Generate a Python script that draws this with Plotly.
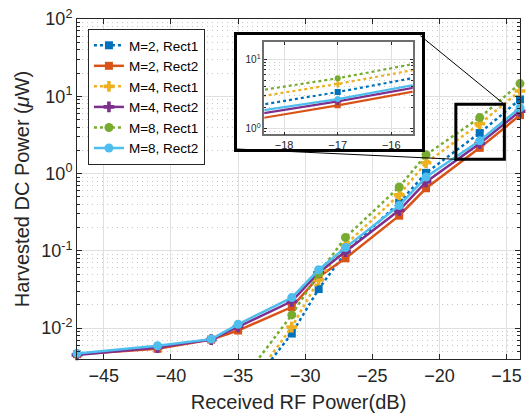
import plotly.graph_objects as go

# ---------------- data ----------------
rf_power_db = [-47, -41, -37, -35, -31, -29, -27, -23, -21, -17, -14]

m2_rect1 = [0.00002, 0.00006, 0.0003, 0.0011, 0.0085, 0.032, 0.095, 0.42, 1.02, 3.35, 9.1]
m2_rect2 = [0.0046, 0.0054, 0.0071, 0.0093, 0.0187, 0.046, 0.080, 0.285, 0.645, 2.15, 5.7]
m4_rect1 = [0.00002, 0.00007, 0.0003, 0.00115, 0.0103, 0.042, 0.12, 0.53, 1.38, 4.4, 11.7]
m4_rect2 = [0.0045, 0.0056, 0.0071, 0.0104, 0.0222, 0.052, 0.098, 0.335, 0.78, 2.45, 6.4]
m8_rect1 = [0.00003, 0.0001, 0.0005, 0.0018, 0.0148, 0.051, 0.149, 0.67, 1.75, 5.3, 14.6]
m8_rect2 = [0.0047, 0.0059, 0.0072, 0.0112, 0.0248, 0.057, 0.110, 0.385, 0.90, 2.65, 7.1]

series_names = ["M=2, Rect1", "M=2, Rect2", "M=4, Rect1", "M=4, Rect2", "M=8, Rect1", "M=8, Rect2"]
series_values = [m2_rect1, m2_rect2, m4_rect1, m4_rect2, m8_rect1, m8_rect2]
series_colors = ["#0072BD", "#D95319", "#EDB120", "#7E2F8E", "#77AC30", "#4DBEEE"]
series_dash = ["dot", "solid", "dot", "solid", "dot", "solid"]
series_symbol = ["square", "square", "cross", "cross", "circle", "circle"]

x_ticks = [-45, -40, -35, -30, -25, -20, -15]
y_ticks = [0.01, 0.1, 1, 10, 100]
y_ticktext = ["10<sup>-2</sup>", "10<sup>-1</sup>", "10<sup>0</sup>", "10<sup>1</sup>", "10<sup>2</sup>"]
y_minor = [m * 10.0 ** e for e in range(-3, 2) for m in range(2, 10)]

inset_x_ticks = [-18, -17, -16]
inset_y_ticks = [1, 10]
inset_y_ticktext = ["10<sup>0</sup>", "10<sup>1</sup>"]

FONT = "Liberation Sans, Arial, Helvetica, sans-serif"
AX = "#262626"

fig = go.Figure()

# main traces
for name, vals, col, dash, sym in zip(series_names, series_values, series_colors, series_dash, series_symbol):
    fig.add_trace(go.Scatter(
        x=rf_power_db, y=vals, name=name, mode="lines+markers",
        line=dict(color=col, width=2.5, dash=dash),
        marker=dict(color=col, symbol=sym, size=9 if sym != "square" else 8),
        cliponaxis=False, xaxis="x", yaxis="y"))

# dummy trace for frame subplot
fig.add_trace(go.Scatter(x=[None], y=[None], xaxis="x2", yaxis="y2", showlegend=False, hoverinfo="skip"))

# inset traces
for name, vals, col, dash, sym in zip(series_names, series_values, series_colors, series_dash, series_symbol):
    fig.add_trace(go.Scatter(
        x=rf_power_db, y=vals, name=name, mode="lines+markers", showlegend=False,
        line=dict(color=col, width=2.2, dash=dash),
        marker=dict(color=col, symbol=sym, size=6),
        xaxis="x3", yaxis="y3"))

grid_major = "#e0e0e0"
grid_minor = "#c8c8c8"
minor_dash = "1px,4px"

fig.update_layout(
    width=527, height=416,
    margin=dict(l=77, r=5, t=19, b=57),
    paper_bgcolor="white", plot_bgcolor="white",
    font=dict(family=FONT, color=AX),
    showlegend=True,
    legend=dict(x=0.0247, y=0.9706, xanchor="left", yanchor="top",
                bgcolor="white", bordercolor=AX, borderwidth=1,
                font=dict(size=13.5, color="#000000"), tracegroupgap=0),
    xaxis=dict(
        domain=[0, 1], range=[-47, -14], tickvals=x_ticks,
        ticks="inside", ticklen=5, tickcolor=AX, mirror="ticks",
        showline=True, linecolor=AX, linewidth=1,
        showgrid=True, gridcolor=grid_major, gridwidth=1, zeroline=False,
        tickfont=dict(size=18, color=AX),
        title=dict(text="Received RF Power(dB)", font=dict(size=20, color=AX), standoff=10),
        anchor="y"),
    yaxis=dict(
        domain=[0, 1], type="log", range=[-2.4, 2],
        tickvals=y_ticks, ticktext=y_ticktext,
        ticks="inside", ticklen=5, tickcolor=AX, mirror="ticks",
        showline=True, linecolor=AX, linewidth=1,
        showgrid=True, gridcolor=grid_major, gridwidth=1, zeroline=False,
        tickfont=dict(size=18, color=AX),
        minor=dict(tickvals=y_minor, ticks="inside", ticklen=3, tickcolor=AX,
                   showgrid=True, gridcolor=grid_minor, griddash=minor_dash, gridwidth=1),
        title=dict(text="Harvested DC Power (<i>μ</i>W)", font=dict(size=20, color=AX), standoff=6),
        anchor="x"),
    # frame around inset
    xaxis2=dict(domain=[0.3605, 0.7787], range=[0, 1], showgrid=False, zeroline=False,
                showticklabels=False, ticks="", showline=True, mirror=True,
                linecolor="#000000", linewidth=3, anchor="y2", fixedrange=True),
    yaxis2=dict(domain=[0.6176, 0.9529], range=[0, 1], showgrid=False, zeroline=False,
                showticklabels=False, ticks="", showline=True, mirror=True,
                linecolor="#000000", linewidth=3, anchor="x2", fixedrange=True),
    # inset axes
    xaxis3=dict(domain=[0.4228, 0.7578], range=[-18.37, -15.6], tickvals=inset_x_ticks,
                ticks="inside", ticklen=3, tickcolor=AX, mirror="ticks",
                showline=True, linecolor="#6e6e6e", linewidth=1.5,
                showgrid=True, gridcolor=grid_major, zeroline=False,
                tickfont=dict(size=11, color=AX), anchor="y3"),
    yaxis3=dict(domain=[0.6609, 0.9315], type="log", range=[-0.087, 1.246],
                tickvals=inset_y_ticks, ticktext=inset_y_ticktext,
                ticks="inside", ticklen=3, tickcolor=AX, mirror="ticks",
                showline=True, linecolor="#6e6e6e", linewidth=1.5,
                showgrid=True, gridcolor=grid_major, zeroline=False,
                tickfont=dict(size=10, color=AX),
                minor=dict(tickvals=[0.9] + list(range(2, 10)), ticks="inside", ticklen=2,
                           tickcolor=AX, showgrid=True, gridcolor=grid_minor, griddash=minor_dash),
                anchor="x3"),
    shapes=[
        dict(type="rect", xref="paper", yref="paper", x0=0.8552, x1=0.9647, y0=0.5874, y1=0.7491,
             line=dict(color="#000000", width=3), layer="above"),
        dict(type="line", xref="paper", yref="paper", x0=0.7751, y0=0.9509, x1=0.9647, y1=0.7491,
             line=dict(color="#000000", width=1), layer="above"),
        dict(type="line", xref="paper", yref="paper", x0=0.3605, y0=0.6176, x1=0.8552, y1=0.5874,
             line=dict(color="#000000", width=1), layer="above"),
    ],
)

fig.write_html("out.html")
